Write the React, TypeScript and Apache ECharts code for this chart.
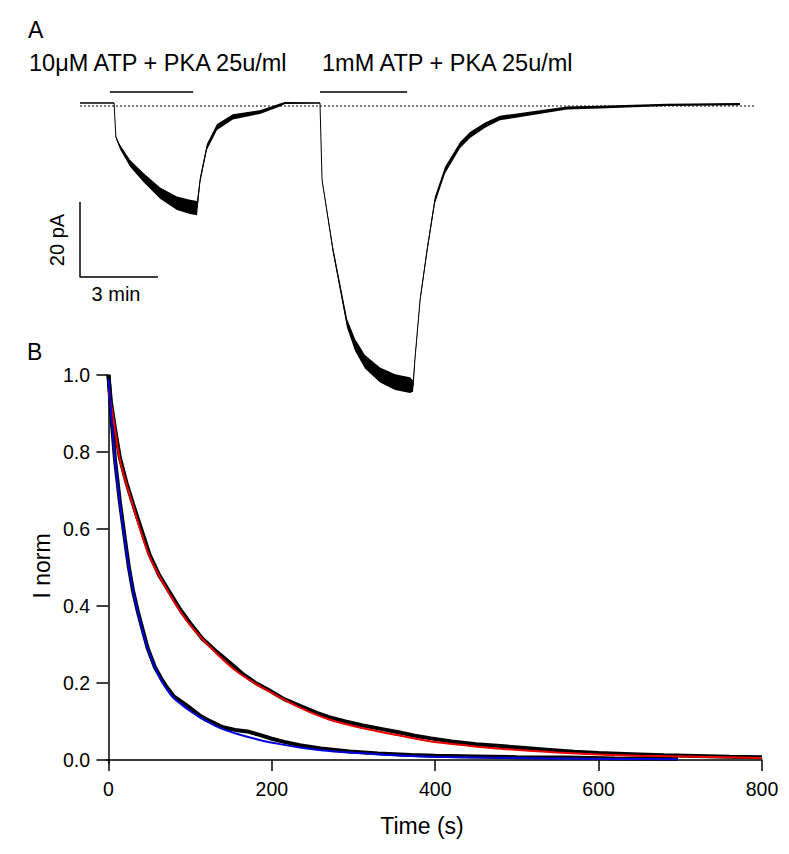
import React, { useEffect, useRef } from "react";
import * as echarts from "echarts";

const FONT = "'Liberation Sans', Arial, sans-serif";

// ---------- Panel A: current recording (time in min, current in pA) ----------
const recTime = [0, 1.31, 1.38, 1.54, 1.92, 2.42, 3.08, 3.73, 4.23, 4.5, 4.62, 4.88, 5.27, 5.88, 6.92, 7.69, 7.88, 9.23, 9.31, 9.73, 10.27, 10.58, 10.96, 11.54, 12.12, 12.69, 12.81, 12.88, 13.08, 13.35, 13.65, 14.04, 14.62, 15.0, 15.58, 16.15, 17.42, 18.73, 20.0, 22.58, 25.38];
const recCurrent = [0, 0, -9.1, -11.7, -16, -19.7, -24, -26.7, -27.7, -28, -20.5, -11.7, -6.4, -3.7, -2.4, -0.5, 0, 0, -20.5, -39.2, -58.7, -64.5, -69, -72.5, -74.4, -75.2, -75.5, -68.5, -52.5, -39.2, -25.9, -17.9, -11.2, -8.5, -5.9, -4, -2.7, -1.3, -1.1, -0.5, -0.3];
const recNoise = [0.15, 0.15, 0.3, 0.6, 0.9, 1.2, 1.5, 1.8, 1.9, 1.9, 0.8, 0.8, 0.8, 0.7, 0.5, 0.4, 0.25, 0.15, 0.2, 0.8, 1.2, 1.6, 1.8, 2.0, 2.1, 2.1, 1.5, 0.6, 0.6, 0.8, 0.9, 0.9, 0.8, 0.8, 0.7, 0.6, 0.5, 0.4, 0.35, 0.3, 0.3];
const baselineLevel = -0.8;
const baselineSpan = [0, 25.96];
const stimLevel = 2.93;
const stimBar1 = [1.15, 4.35];
const stimBar2 = [9.23, 12.58];
const scaleBarTop = -26.4;
const scaleBarPA = 20;
const scaleBarMin = 3;
const stimLabels = ["10\u03bcM ATP + PKA 25u/ml", "1mM ATP + PKA 25u/ml"];

// ---------- Panel B: normalised decay (time s, I norm) ----------
const data1mMT = [0, 3, 8, 14, 22, 30, 40, 50, 62, 75, 88, 100, 115, 133, 150, 165, 180, 195, 215, 235, 255, 270, 290, 310, 335, 355, 375, 395, 420, 450, 480, 510, 540, 570, 600, 640, 680, 720, 760, 800];
const data1mMV = [1.0, 0.93, 0.86, 0.785, 0.72, 0.665, 0.6, 0.535, 0.48, 0.435, 0.39, 0.355, 0.315, 0.28, 0.25, 0.222, 0.2, 0.183, 0.158, 0.14, 0.122, 0.111, 0.1, 0.09, 0.08, 0.072, 0.063, 0.056, 0.048, 0.041, 0.036, 0.031, 0.026, 0.021, 0.018, 0.015, 0.012, 0.01, 0.008, 0.007];
const fitRedT = [0, 5, 14, 30, 50, 75, 100, 133, 160, 195, 235, 270, 310, 355, 395, 440, 480, 550, 600, 650, 720, 800];
const fitRedV = [0.96, 0.9, 0.78, 0.66, 0.53, 0.43, 0.35, 0.275, 0.225, 0.18, 0.135, 0.105, 0.083, 0.064, 0.048, 0.037, 0.029, 0.019, 0.014, 0.011, 0.008, 0.005];
const data10uMT = [0, 4, 8, 14, 20, 25, 30, 36, 41, 48, 57, 65, 71, 80, 90, 100, 112, 125, 140, 155, 170, 185, 200, 215, 234, 260, 295, 330, 370, 400, 450, 500, 560, 620, 697];
const data10uMV = [1.0, 0.88, 0.78, 0.67, 0.575, 0.5, 0.44, 0.385, 0.345, 0.29, 0.24, 0.21, 0.19, 0.165, 0.15, 0.135, 0.115, 0.1, 0.085, 0.078, 0.074, 0.065, 0.055, 0.047, 0.038, 0.03, 0.022, 0.017, 0.013, 0.011, 0.009, 0.007, 0.006, 0.004, 0.003];
const fitBlueT = [0, 4, 8, 14, 20, 25, 30, 36, 41, 48, 57, 65, 71, 80, 90, 100, 112, 125, 140, 160, 185, 210, 234, 260, 295, 350, 400, 450, 500, 580, 640, 697];
const fitBlueV = [0.99, 0.88, 0.78, 0.665, 0.57, 0.5, 0.44, 0.385, 0.34, 0.29, 0.24, 0.205, 0.185, 0.16, 0.143, 0.127, 0.11, 0.095, 0.08, 0.066, 0.052, 0.041, 0.032, 0.025, 0.019, 0.012, 0.008, 0.006, 0.005, 0.003, 0.0025, 0.002];
const xTicksB = [0, 200, 400, 600, 800];
const yTicksB = [0, 0.2, 0.4, 0.6, 0.8, 1.0];

const zip = (a: number[], b: number[]) => a.map((v, i) => [v, b[i]]);

function buildOption(): any {
  const axisBlack = { color: "#000", width: 1.5 };
  return {
    animation: false,
    backgroundColor: "#fff",
    grid: [
      { left: 80, top: 84.25, width: 676, height: 318.75, containLabel: false, outerBoundsMode: "none" },
      { left: 107, top: 375, right: 27, bottom: 91, containLabel: false, outerBoundsMode: "none" },
    ],
    xAxis: [
      { gridIndex: 0, type: "value", min: 0, max: 26, show: false },
      {
        gridIndex: 1, type: "value", min: -1.8, max: 800,
        axisLine: { show: true, lineStyle: axisBlack },
        axisTick: { show: true, length: 11, lineStyle: axisBlack, customValues: xTicksB },
        axisLabel: { show: true, customValues: xTicksB, fontSize: 19.5, fontFamily: FONT, color: "#000", margin: 16, formatter: (v: number) => String(Math.round(v)) },
        splitLine: { show: false },
      },
    ],
    yAxis: [
      { gridIndex: 0, type: "value", min: -80, max: 5, show: false },
      {
        gridIndex: 1, type: "value", min: -0.008, max: 1.0,
        axisLine: { show: true, lineStyle: axisBlack },
        axisTick: { show: true, length: 12, lineStyle: axisBlack, customValues: yTicksB },
        axisLabel: { show: true, customValues: yTicksB, fontSize: 19.5, fontFamily: FONT, color: "#000", margin: 17, formatter: (v: number) => v.toFixed(1) },
        splitLine: { show: false },
      },
    ],
    series: [
      {
        type: "line", xAxisIndex: 0, yAxisIndex: 0, symbol: "none", silent: true,
        data: [[baselineSpan[0], baselineLevel], [baselineSpan[1], baselineLevel]],
        lineStyle: { color: "#000", width: 1.2, type: [2, 2] },
      },
      {
        type: "line", xAxisIndex: 0, yAxisIndex: 0, symbol: "none", silent: true,
        data: [[stimBar1[0], stimLevel], [stimBar1[1], stimLevel]],
        lineStyle: { color: "#000", width: 1.4 },
      },
      {
        type: "line", xAxisIndex: 0, yAxisIndex: 0, symbol: "none", silent: true,
        data: [[stimBar2[0], stimLevel], [stimBar2[1], stimLevel]],
        lineStyle: { color: "#000", width: 1.4 },
      },
      {
        type: "line", xAxisIndex: 0, yAxisIndex: 0, symbol: "none", silent: true,
        data: [[0, scaleBarTop], [0, scaleBarTop - scaleBarPA], [scaleBarMin, scaleBarTop - scaleBarPA]],
        lineStyle: { color: "#000", width: 1.5 },
      },
      {
        type: "custom", xAxisIndex: 0, yAxisIndex: 0, silent: true, clip: false,
        data: [[0, 0]],
        encode: { x: 0, y: 1 },
        renderItem: (_p: any, api: any) => {
          const upper = recTime.map((t, i) => api.coord([t, recCurrent[i] + recNoise[i]]));
          const lower = recTime.map((t, i) => api.coord([t, recCurrent[i] - recNoise[i]])).reverse();
          return { type: "polygon", shape: { points: upper.concat(lower) }, style: { fill: "#000" } };
        },
      },
      {
        type: "line", xAxisIndex: 0, yAxisIndex: 0, symbol: "none", silent: true,
        data: zip(recTime, recCurrent),
        lineStyle: { color: "#000", width: 1 },
      },
      {
        type: "line", xAxisIndex: 1, yAxisIndex: 1, symbol: "none", silent: true,
        data: zip(data1mMT, data1mMV),
        lineStyle: { color: "#000", width: 4 },
      },
      {
        type: "line", xAxisIndex: 1, yAxisIndex: 1, symbol: "none", silent: true,
        data: zip(data10uMT, data10uMV),
        lineStyle: { color: "#000", width: 4 },
      },
      {
        type: "line", xAxisIndex: 1, yAxisIndex: 1, symbol: "none", silent: true, smooth: 0.3,
        data: zip(fitRedT, fitRedV),
        lineStyle: { color: "#ee0000", width: 2 },
      },
      {
        type: "line", xAxisIndex: 1, yAxisIndex: 1, symbol: "none", silent: true, smooth: 0.3,
        data: zip(fitBlueT, fitBlueV),
        lineStyle: { color: "#0000dd", width: 2 },
      },
    ],
    graphic: [
      { type: "text", x: 28, y: 30, style: { text: "A", font: `23px ${FONT}`, fill: "#000", verticalAlign: "middle" } },
      { type: "text", x: 29, y: 62.5, style: { text: stimLabels[0], font: `23.5px ${FONT}`, fill: "#000", verticalAlign: "middle" } },
      { type: "text", x: 322, y: 62.5, style: { text: stimLabels[1], font: `23.5px ${FONT}`, fill: "#000", verticalAlign: "middle" } },
      { type: "text", x: 57, y: 240, rotation: Math.PI / 2, style: { text: "20 pA", font: `20px ${FONT}`, fill: "#000", align: "center", verticalAlign: "middle" } },
      { type: "text", x: 116, y: 293.5, style: { text: "3 min", font: `20px ${FONT}`, fill: "#000", align: "center", verticalAlign: "middle" } },
      { type: "text", x: 27, y: 352, style: { text: "B", font: `23px ${FONT}`, fill: "#000", verticalAlign: "middle" } },
      { type: "text", x: 42, y: 566, rotation: Math.PI / 2, style: { text: "I norm", font: `23px ${FONT}`, fill: "#000", align: "center", verticalAlign: "middle" } },
      { type: "text", x: 422, y: 826, style: { text: "Time (s)", font: `23px ${FONT}`, fill: "#000", align: "center", verticalAlign: "middle" } },
    ],
  };
}

export default function App() {
  const ref = useRef<HTMLDivElement>(null);
  useEffect(() => {
    if (!ref.current) return;
    const chart = echarts.init(ref.current, null, { renderer: "svg" });
    chart.setOption(buildOption());
    return () => chart.dispose();
  }, []);
  return <div ref={ref} style={{ position: "fixed", left: 0, top: 0, width: 789, height: 854, background: "#fff" }} />;
}
